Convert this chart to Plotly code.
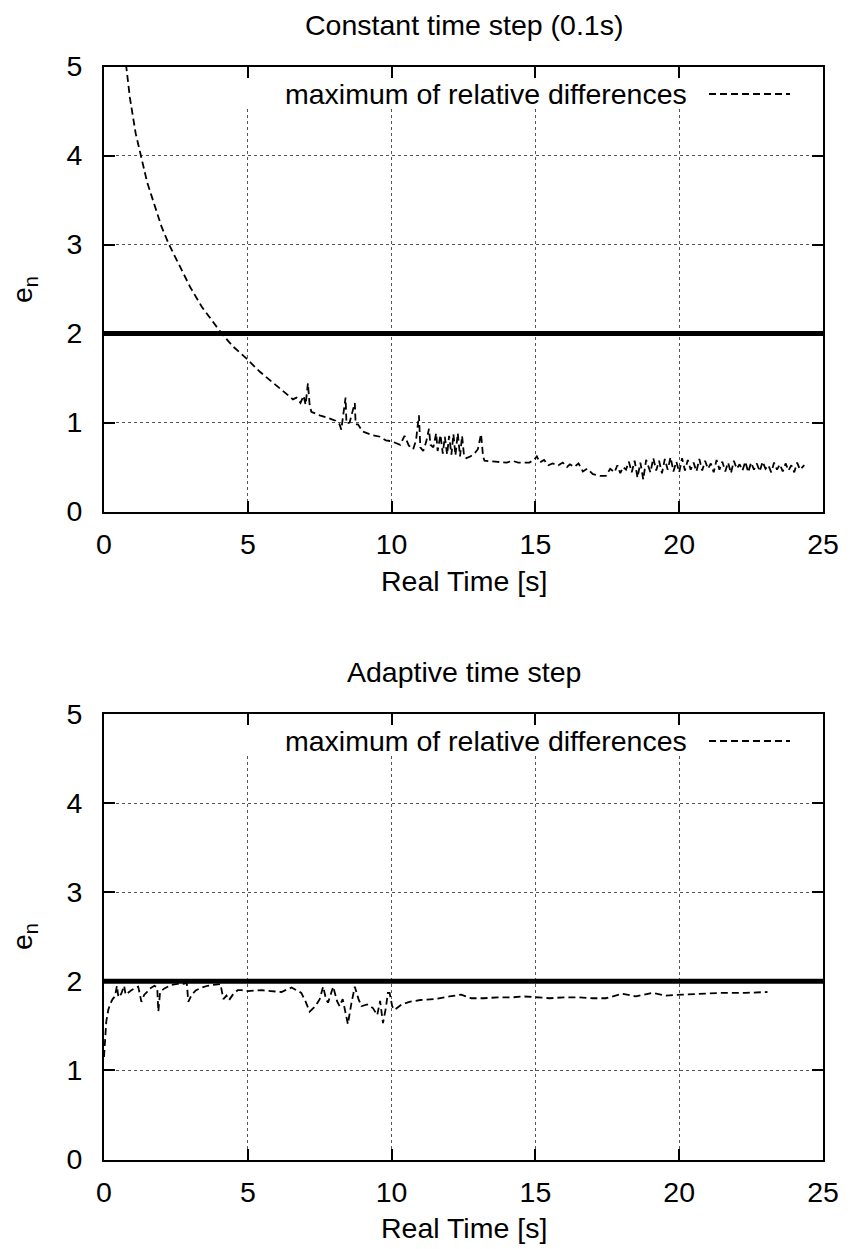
import plotly.graph_objects as go

# ---------------- data ----------------
threshold_x = [0, 25]
threshold_y = [2.0, 2.0]

top_x = [
    0.72, 0.9, 1.1, 1.28, 1.5, 1.75, 2.0, 2.26, 2.6, 3.0,
    3.4, 3.75, 4.09, 4.5, 4.95, 5.42, 5.9, 6.3, 6.57, 6.69,
    6.83, 6.94, 7.01, 7.09, 7.15, 7.21, 7.5, 7.8, 8.05, 8.19,
    8.25, 8.4, 8.43, 8.54, 8.72, 8.75, 8.83, 8.99, 9.3, 9.6,
    9.8, 9.99, 10.2, 10.3, 10.45, 10.6, 10.75, 10.85, 10.95, 11.0,
    11.1, 11.2, 11.3, 11.35, 11.45, 11.55, 11.6, 11.7, 11.78, 11.85,
    11.93, 12.0, 12.08, 12.15, 12.22, 12.3, 12.38, 12.45, 12.52, 12.6,
    12.75, 12.9, 13.0, 13.11, 13.18, 13.23, 13.6, 14.0, 14.2, 14.4,
    14.79, 14.95, 15.05, 15.15, 15.3, 15.45, 15.6, 15.8, 15.95, 16.1,
    16.2, 16.35, 16.5, 16.65, 16.8, 17.0, 17.25, 17.45, 17.6, 17.75,
    17.85, 17.95, 18.05, 18.15, 18.25, 18.35, 18.45, 18.55, 18.65, 18.75,
    18.85, 19.0, 19.1, 19.2, 19.3, 19.4, 19.5, 19.6, 19.7, 19.8,
    19.9, 20.0, 20.1, 20.2, 20.3, 20.4, 20.5, 20.6, 20.7, 20.8,
    20.9, 21.0, 21.1, 21.2, 21.3, 21.4, 21.5, 21.6, 21.7, 21.8,
    21.9, 22.0, 22.1, 22.2, 22.3, 22.4, 22.5, 22.6, 22.7, 22.8,
    22.9, 23.0, 23.1, 23.2, 23.3, 23.4, 23.5, 23.6, 23.7, 23.8,
    23.9, 24.0, 24.1, 24.2, 24.35,
]
top_y = [
    5.15, 4.65, 4.25, 4.0, 3.7, 3.45, 3.2, 3.0, 2.78, 2.52,
    2.3, 2.15, 2.0, 1.85, 1.72, 1.57, 1.44, 1.33, 1.26, 1.28,
    1.22, 1.30, 1.20, 1.44, 1.20, 1.12, 1.08, 1.05, 1.02, 0.98,
    0.92, 1.28, 0.99, 1.0, 1.22, 0.98, 0.98, 0.90, 0.86, 0.84,
    0.80, 0.79, 0.76, 0.75, 0.85, 0.74, 0.70, 0.80, 1.08, 0.72,
    0.68, 0.78, 0.93, 0.75, 0.72, 0.88, 0.68, 0.86, 0.65, 0.84,
    0.64, 0.85, 0.64, 0.87, 0.63, 0.88, 0.62, 0.85, 0.62, 0.60,
    0.62, 0.66, 0.70, 0.87, 0.62, 0.57, 0.56, 0.55, 0.57, 0.55,
    0.55, 0.58, 0.62, 0.55, 0.58, 0.52, 0.54, 0.52, 0.55, 0.50,
    0.53, 0.50, 0.54, 0.45, 0.48, 0.42, 0.40, 0.40, 0.48, 0.44,
    0.52, 0.43, 0.50, 0.47, 0.56, 0.44, 0.57, 0.38, 0.55, 0.36,
    0.58, 0.44, 0.60, 0.46, 0.57, 0.43, 0.59, 0.47, 0.61, 0.45,
    0.56, 0.44, 0.60, 0.46, 0.58, 0.47, 0.55, 0.45, 0.59, 0.46,
    0.57, 0.48, 0.54, 0.44, 0.58, 0.47, 0.56, 0.45, 0.55, 0.43,
    0.57, 0.48, 0.53, 0.46, 0.56, 0.44, 0.55, 0.47, 0.54, 0.45,
    0.56, 0.48, 0.52, 0.44, 0.55, 0.47, 0.53, 0.45, 0.54, 0.46,
    0.52, 0.44, 0.55, 0.47, 0.52,
]

bot_x = [
    0.0, 0.03, 0.08, 0.15, 0.22, 0.3, 0.38, 0.45, 0.5, 0.6,
    0.7, 0.75, 0.85, 0.95, 1.05, 1.19, 1.3, 1.4, 1.5, 1.6,
    1.75, 1.85, 1.89, 1.95, 2.1, 2.35, 2.55, 2.75, 2.88, 2.93,
    3.05, 3.2, 3.4, 3.6, 3.8, 4.05, 4.15, 4.26, 4.35, 4.5,
    4.65, 4.78, 5.0, 5.48, 5.8, 6.17, 6.52, 6.86, 7.0, 7.15,
    7.35, 7.5, 7.62, 7.72, 7.79, 7.9, 7.97, 8.1, 8.19, 8.3,
    8.4, 8.48, 8.6, 8.72, 8.85, 8.95, 9.15, 9.35, 9.5, 9.6,
    9.7, 9.8, 9.87, 9.93, 10.02, 10.1, 10.35, 10.62, 11.0, 11.5,
    12.01, 12.2, 12.42, 12.77, 13.2, 13.7, 14.2, 14.6, 15.02, 15.5,
    16.0, 16.5, 17.0, 17.45, 18.03, 18.49, 19.07, 19.54, 20.1, 20.8,
    21.5, 22.3, 23.07,
]
bot_y = [
    1.15, 1.35, 1.55, 1.68, 1.75, 1.80, 1.83, 1.95, 1.82, 1.86,
    1.95, 1.85, 1.88, 1.90, 1.92, 1.94, 1.77, 1.85, 1.88, 1.92,
    1.95, 1.93, 1.66, 1.88, 1.92, 1.96, 1.97, 1.97, 1.98, 1.77,
    1.85, 1.90, 1.93, 1.95, 1.96, 1.97, 1.80, 1.84, 1.79, 1.86,
    1.90, 1.90, 1.89, 1.90, 1.89, 1.88, 1.93, 1.87, 1.78, 1.66,
    1.72, 1.80, 1.94, 1.80, 1.76, 1.88, 1.94, 1.78, 1.72, 1.80,
    1.62, 1.52, 1.75, 1.94, 1.80, 1.72, 1.74, 1.70, 1.62, 1.78,
    1.53, 1.70, 1.87, 1.87, 1.72, 1.68, 1.74, 1.77, 1.79, 1.80,
    1.83, 1.84, 1.85, 1.81, 1.81, 1.82, 1.82, 1.83, 1.82, 1.81,
    1.82, 1.82, 1.81, 1.81, 1.86, 1.83, 1.87, 1.84, 1.85, 1.86,
    1.87, 1.87, 1.88,
]

titles = ["Constant time step (0.1s)", "Adaptive time step"]
series_name = "maximum of relative differences"
x_title = "Real Time [s]"
y_title = "e<sub>n</sub>"
x_ticks = [0, 5, 10, 15, 20, 25]
y_ticks = [0, 1, 2, 3, 4, 5]

# ---------------- figure ----------------
W, H = 850, 1249
L, R = 104, 27
FONT = "Liberation Sans, Arial, Helvetica, sans-serif"
FS = 28.5

def py(p):  # pixel row -> paper y
    return (H - p) / H

def px(p):  # pixel col -> paper x
    return (p - L) / (W - L - R)

fig = go.Figure()

line_style = dict(color="black", width=1.8, dash="7px,4px")
thick = dict(color="black", width=5)

fig.add_trace(go.Scatter(x=threshold_x, y=threshold_y, mode="lines", line=thick,
                         xaxis="x", yaxis="y", showlegend=False, hoverinfo="skip"))
fig.add_trace(go.Scatter(x=top_x, y=top_y, mode="lines", line=line_style,
                         name=series_name, xaxis="x", yaxis="y", showlegend=False))
fig.add_trace(go.Scatter(x=threshold_x, y=threshold_y, mode="lines", line=thick,
                         xaxis="x2", yaxis="y2", showlegend=False, hoverinfo="skip"))
fig.add_trace(go.Scatter(x=bot_x, y=bot_y, mode="lines", line=line_style,
                         name=series_name, xaxis="x2", yaxis="y2", showlegend=False))

ax_common = dict(
    showline=True, linewidth=2, linecolor="black", mirror="allticks",
    ticks="inside", ticklen=11, tickwidth=1.5, tickcolor="black",
    showgrid=True, gridcolor="#555555", griddash="dot", gridwidth=1,
    zeroline=False, tickfont=dict(family=FONT, size=FS, color="black"),
    fixedrange=True,
)

top_dom = [py(511.5), py(66.5)]
bot_dom = [py(1159.5), py(714)]

fig.update_layout(
    width=W, height=H,
    margin=dict(l=L, r=R, t=0, b=0, autoexpand=False),
    paper_bgcolor="white", plot_bgcolor="white",
    font=dict(family=FONT, size=FS, color="black"),
    showlegend=False,
    xaxis=dict(ax_common, range=[0, 25], tickvals=x_ticks, domain=[0, 1],
               anchor="y", ticklabelstandoff=6),
    yaxis=dict(ax_common, range=[0, 5], tickvals=y_ticks, domain=top_dom,
               anchor="x", ticklabelstandoff=14),
    xaxis2=dict(ax_common, range=[0, 25], tickvals=x_ticks, domain=[0, 1],
                anchor="y2", ticklabelstandoff=6),
    yaxis2=dict(ax_common, range=[0, 5], tickvals=y_ticks, domain=bot_dom,
                anchor="x2", ticklabelstandoff=14),
)

annotations = []
shapes = []
for i, (title, top_px) in enumerate(zip(titles, [0, 647])):
    annotations.append(dict(text=title, x=0.5, y=py(25 + top_px), xref="paper", yref="paper",
                            showarrow=False, xanchor="center", yanchor="middle",
                            font=dict(family=FONT, size=FS)))
    annotations.append(dict(text=x_title, x=0.5, y=py(581 + top_px), xref="paper", yref="paper",
                            showarrow=False, xanchor="center", yanchor="middle",
                            font=dict(family=FONT, size=FS)))
    annotations.append(dict(text=y_title, x=px(24), y=py(290 + top_px), xref="paper", yref="paper",
                            showarrow=False, xanchor="center", yanchor="middle", textangle=-90,
                            font=dict(family=FONT, size=FS)))
    # key box (hides grid behind the key)
    shapes.append(dict(type="rect", xref="paper", yref="paper",
                       x0=px(240), x1=px(810), y0=py(108 + top_px), y1=py(78 + top_px),
                       fillcolor="white", line=dict(width=0), layer="above"))
    annotations.append(dict(text=series_name, x=px(689), y=py(94 + top_px), xref="paper", yref="paper",
                            showarrow=False, xanchor="right", yanchor="middle",
                            font=dict(family=FONT, size=FS)))
    shapes.append(dict(type="line", xref="paper", yref="paper",
                       x0=px(709), x1=px(790), y0=py(94 + top_px), y1=py(94 + top_px),
                       line=dict(color="black", width=1.8, dash="7px,4px"), layer="above"))

fig.update_layout(annotations=annotations, shapes=shapes)

fig.write_html("out.html")
